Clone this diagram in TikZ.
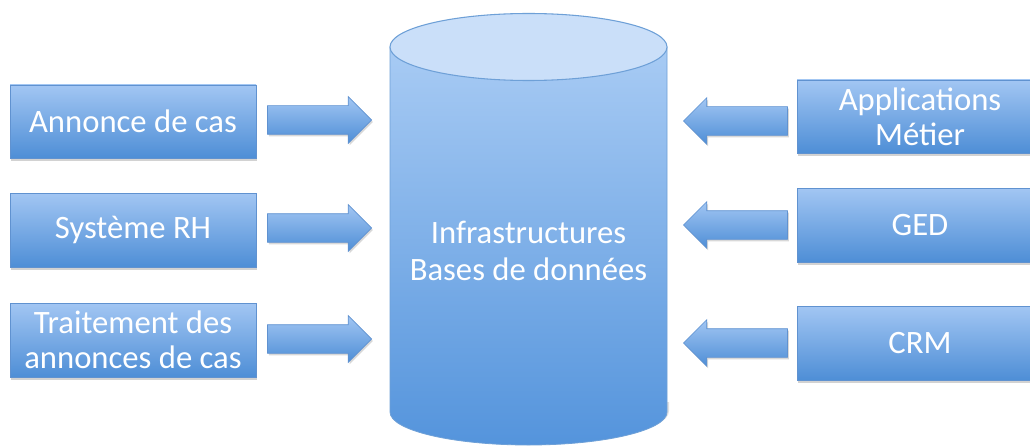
\documentclass[tikz,border=0pt]{standalone}
\usepackage{fontspec}
\setmainfont{Carlito}
\usetikzlibrary{shapes.arrows,shadows}
\definecolor{boxtop}{RGB}{162,198,243}
\definecolor{boxbot}{RGB}{78,142,214}
\definecolor{boxline}{RGB}{96,146,208}
\definecolor{cyltop}{RGB}{168,203,244}
\definecolor{cylbot}{RGB}{84,148,220}
\definecolor{cylcap}{RGB}{202,223,249}
\definecolor{cylline}{RGB}{110,160,215}
\tikzset{
  box/.style={rectangle, draw=boxline, line width=0.6pt, top color=boxtop, bottom color=boxbot,
    text=white, align=center, font=\fontsize{24.5}{26}\selectfont,
    minimum width=246*0.75pt, minimum height=74*0.75pt, inner sep=0pt,
    drop shadow={opacity=0.35, shadow xshift=1pt, shadow yshift=-2pt}},
  blockarrow/.style={single arrow, draw=boxline, line width=0.5pt, top color=boxtop, bottom color=boxbot,
    minimum height=104*0.75pt, inner xsep=0pt, inner ysep=14*0.75pt,
    single arrow head extend=9*0.75pt, single arrow tip angle=90, anchor=tip,
    drop shadow={opacity=0.3, shadow xshift=1pt, shadow yshift=-1.5pt}},
}
\begin{document}
\begin{tikzpicture}[x=0.75pt,y=0.75pt]
\useasboundingbox (0,0) rectangle (1030,447);
\clip (0,0) rectangle (1030,447);
\fill[white] (0,0) rectangle (1030,447);
% cylinder
\fill[black,opacity=0.12] (392,45) -- (392,36) arc[start angle=180,end angle=360,x radius=138.5*0.75pt,y radius=33*0.75pt] -- (669,45) -- cycle;
\shade[top color=cyltop,bottom color=cylbot,draw=cylline,line width=0.6pt]
  (390,400) -- (390,35) arc[start angle=180,end angle=360,x radius=138.5*0.75pt,y radius=33*0.75pt] -- (667,400) -- cycle;
\draw[fill=cylcap,draw=cylline,line width=0.8pt] (528.5,400) ellipse[x radius=138.5*0.75pt,y radius=33.5*0.75pt];
\node[text=white,align=center,font=\fontsize{24.5}{28}\selectfont] (db) at (528.5,196) {Infrastructures\\Bases de données};
% left boxes
\node[box,minimum height=73*0.75pt] (l1) at (133,325.5) {Annonce de cas};
\node[box] (l2) at (133,217) {Système RH};
\node[box] (l3) at (133,107) {Traitement des\\annonces de cas};
% right boxes
\node[box,minimum height=73*0.75pt] (r1) at (920,330.5) {Applications\\Métier};
\node[box] (r2) at (920,222) {GED};
\node[box] (r3) at (920,104) {CRM};
% arrows
\node[blockarrow] (al1) at (372,327) {};
\node[blockarrow] (al2) at (372,219) {};
\node[blockarrow] (al3) at (372,108) {};
\node[blockarrow,shape border rotate=180] (ar1) at (683,326) {};
\node[blockarrow,shape border rotate=180] (ar2) at (683,222) {};
\node[blockarrow,shape border rotate=180] (ar3) at (683,104) {};
\end{tikzpicture}
\end{document}
